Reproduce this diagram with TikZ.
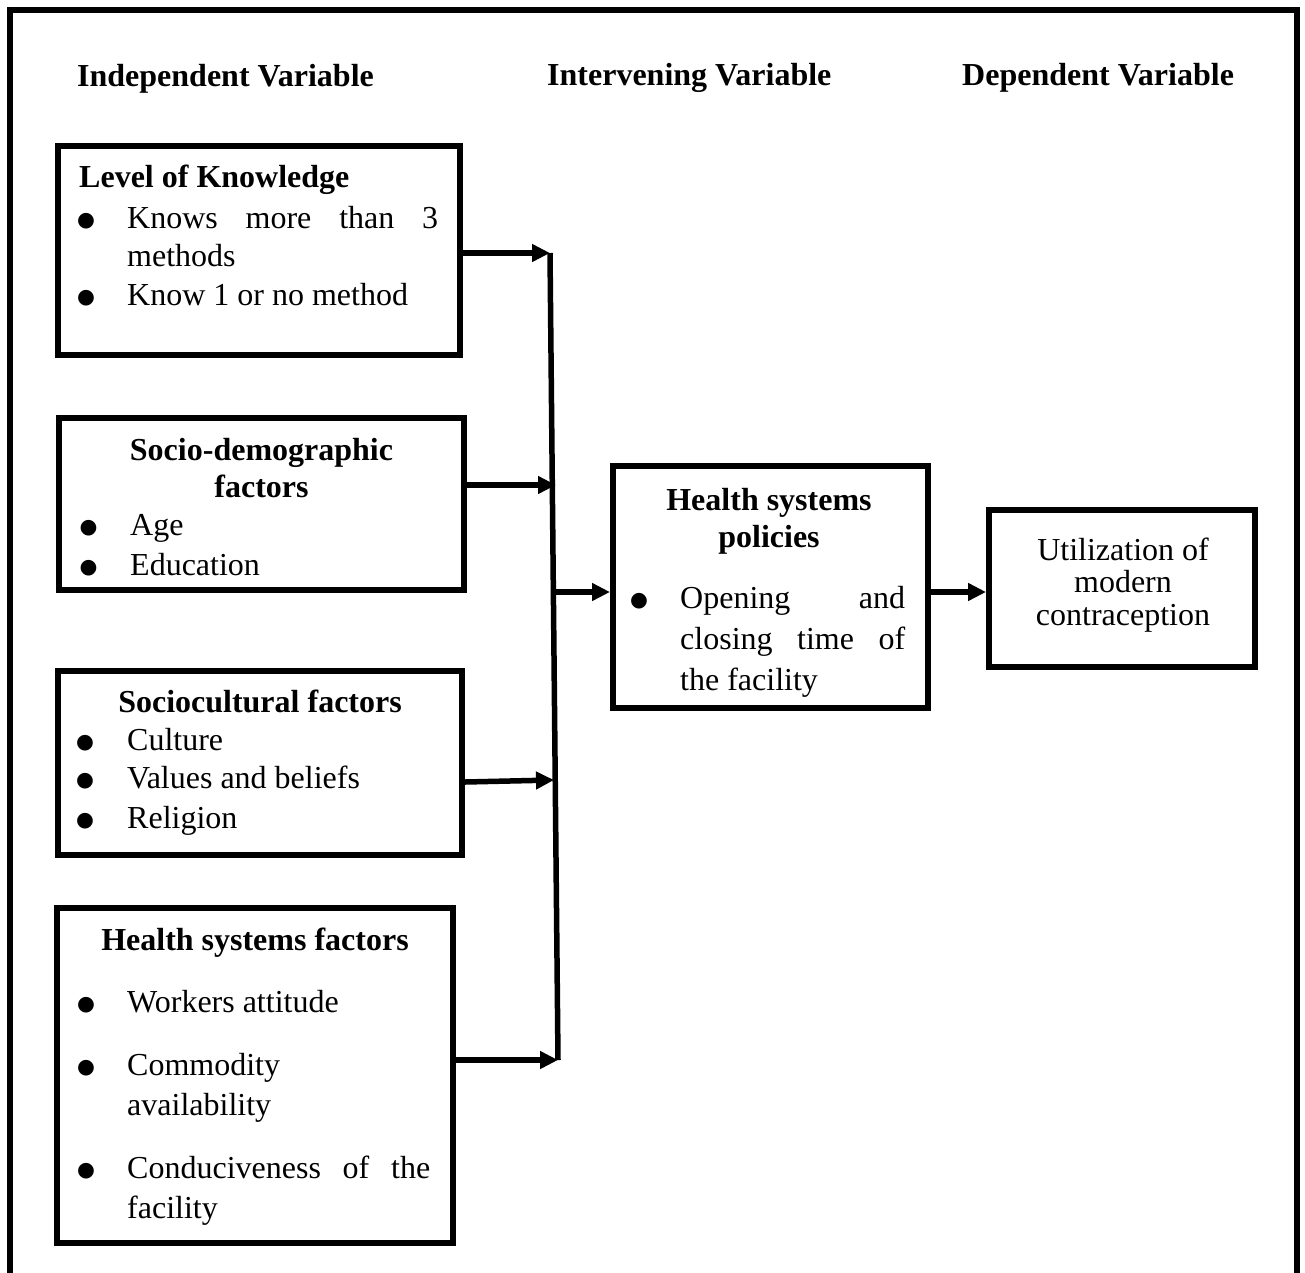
\documentclass[tikz,border=0pt]{standalone}
\usepackage{fontspec}
\setmainfont{Liberation Serif}
\newfontfamily\dvfont{DejaVu Sans}
\usetikzlibrary{arrows.meta,calc}
\tolerance=10000
\hbadness=10000
\hyphenpenalty=10000
\exhyphenpenalty=10000
\tikzset{
  box/.style={draw, line width=6pt, rectangle, inner sep=0pt},
  hdr/.style={inner sep=0pt, anchor=base west, font=\fontsize{32}{38}\selectfont\bfseries},
  ttl/.style={inner sep=0pt, anchor=base, align=flush center, text width=390pt, font=\fontsize{32}{37}\selectfont\bfseries},
  itm/.style={inner sep=0pt, anchor=base west, font=\fontsize{32}{38}\selectfont},
  jst/.style={itm, align=justify},
  bl/.style={inner sep=0pt, anchor=base, yshift=2pt, font=\dvfont\fontsize{20.5}{22}\selectfont},
  arr/.style={line width=5.5pt, -{Triangle[length=18pt,width=17pt]}},
  bus/.style={line width=5.5pt},
  frame/.style={line width=6pt}
}
\newcommand\bu{●}
\begin{document}
\begin{tikzpicture}[x=1pt,y=-1pt]
\useasboundingbox (0,0) rectangle (1305,1272);
\draw[frame] (10,1300) -- (10,10) -- (1297,10) -- (1297,1300);

% headers
\node[hdr] (hI) at (77,86) {Independent Variable};
\node[hdr] (hM) at (547,85) {Intervening Variable};
\node[hdr] (hD) at (962,85) {Dependent Variable};

% boxes
\node[box, minimum width=402pt, minimum height=209pt] (lk) at (259,250.5) {};
\node[box, minimum width=405pt, minimum height=172pt] (sd) at (261.5,504) {};
\node[box, minimum width=404pt, minimum height=184pt] (sc) at (260,763) {};
\node[box, minimum width=396pt, minimum height=335pt] (hf) at (255,1075.5) {};
\node[box, minimum width=315pt, minimum height=242pt] (pol) at (770.5,587) {};
\node[box, minimum width=266pt, minimum height=157pt] (ut) at (1122,588.5) {};

% Level of knowledge
\node[hdr] (lkT) at (79,187) {Level of Knowledge};
\node[bl] (lkb1) at (86,228) {\bu};
\node[jst, text width=311pt] (lki1) at (127,228) {Knows more than 3\linebreak methods};
\node[bl] (lkb2) at (86,305) {\bu};
\node[itm] (lki2) at (127,305) {Know 1 or no method};

% Socio-demographic
\node[ttl] (sdT) at (261.5,460) {Socio-demographic\\factors};
\node[bl] (sdb1) at (88.5,535) {\bu};
\node[itm] (sdi1) at (130,535) {Age};
\node[bl] (sdb2) at (88.5,575) {\bu};
\node[itm] (sdi2) at (130,575) {Education};

% Sociocultural
\node[ttl] (scT) at (260,712) {Sociocultural factors};
\node[bl] (scb1) at (85,750) {\bu};
\node[itm] (sci1) at (127,750) {Culture};
\node[bl] (scb2) at (85,788) {\bu};
\node[itm] (sci2) at (127,788) {Values and beliefs};
\node[bl] (scb3) at (85,828) {\bu};
\node[itm] (sci3) at (127,828) {Religion};

% Health systems factors
\node[ttl] (hfT) at (255,950) {Health systems factors};
\node[bl] (hfb1) at (86,1012) {\bu};
\node[itm] (hfi1) at (127,1012) {Workers attitude};
\node[bl] (hfb2) at (86,1075) {\bu};
\node[itm, align=left, text width=303pt, font=\fontsize{32}{40}\selectfont] (hfi2) at (127,1075) {Commodity\\availability};
\node[bl] (hfb3) at (86,1178) {\bu};
\node[jst, text width=303pt, font=\fontsize{32}{40}\selectfont] (hfi3) at (127,1178) {Conduciveness of the\linebreak facility};

% Health systems policies
\node[ttl, text width=300pt] (polT) at (769,510) {Health systems\\policies};
\node[bl] (polb1) at (639,608) {\bu};
\node[jst, text width=225pt, font=\fontsize{32}{41}\selectfont] (poli1) at (680,608) {Opening and\linebreak closing time of\linebreak the facility};

% Utilization
\node[inner sep=0pt, anchor=base, align=flush center, text width=260pt, font=\fontsize{32}{32.5}\selectfont] (utT) at (1123,560) {Utilization of\\modern\\contraception};

% bus and arrows
\coordinate (b1) at (550,253);
\coordinate (b2) at (556,485);
\coordinate (b3) at (553,592);
\coordinate (b4) at (554,780);
\coordinate (b5) at (558,1060);
\draw[bus] (b1) -- (b5);
\draw[arr] (lk.east |- b1) -- (b1);
\draw[arr] (sd.east |- b2) -- (b2);
\draw[arr] ($(sc.east |- b4)+(0,2)$) -- (b4);
\draw[arr] (hf.east |- b5) -- (b5);
\draw[arr] (b3) -- (b3 -| pol.west);
\draw[arr] (pol.east |- b3) -- (ut.west |- b3);
\end{tikzpicture}
\end{document}
